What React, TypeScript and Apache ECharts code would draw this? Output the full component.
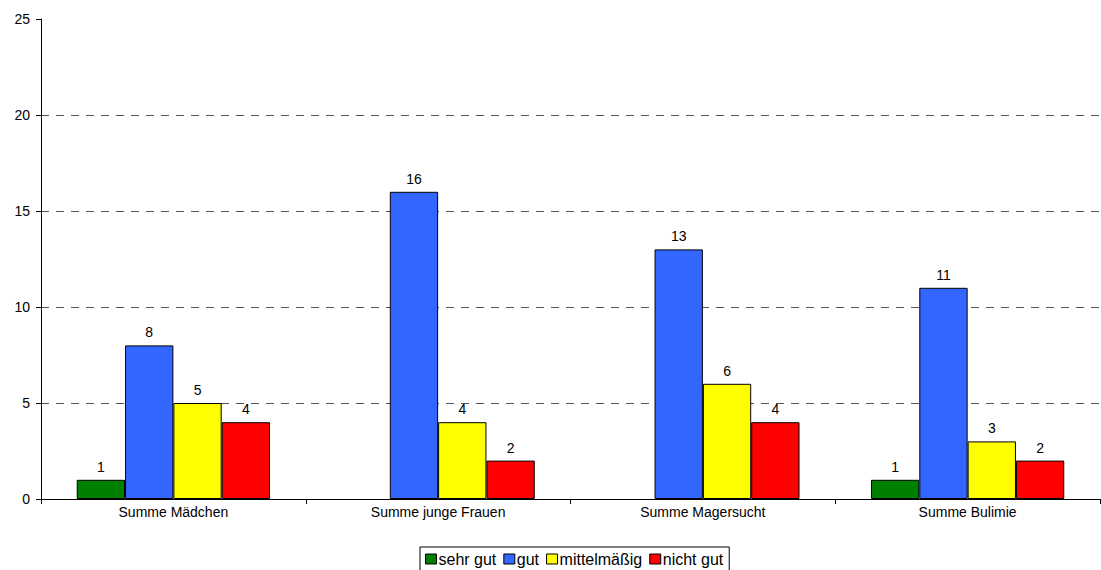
import React, { useEffect, useRef } from "react";
import * as echarts from "echarts";

const categories = ["Summe Mädchen", "Summe junge Frauen", "Summe Magersucht", "Summe Bulimie"];
const sehrGut = [1, null, null, 1];
const gut = [8, 16, 13, 11];
const mittel = [5, 4, 6, 3];
const nichtGut = [4, 2, 4, 2];
const seriesNames = ["sehr gut", "gut", "mittelmäßig", "nicht gut"];
const colors = ["#008000", "#3366FF", "#FFFF00", "#FF0000"];
const gridValues = [5, 10, 15, 20];

export default function App() {
  const ref = useRef<HTMLDivElement>(null);
  useEffect(() => {
    document.body.style.margin = "0";
    const chart = echarts.init(ref.current!, null, { renderer: "svg" });
    const font = "Arial, Liberation Sans, sans-serif";
    const datas = [sehrGut, gut, mittel, nichtGut];
    chart.setOption({
      animation: false,
      textStyle: { fontFamily: font },
      grid: { left: 41, right: 1, top: 19, bottom: 71 },
      legend: {
        top: 547,
        left: 420,
        icon: "rect",
        itemWidth: 11,
        itemHeight: 10,
        itemGap: 7,
        padding: [4, 6, 4, 5],
        borderColor: "#000",
        borderWidth: 1,
        textStyle: { fontSize: 16, color: "#000", fontFamily: font, padding: [0, 0, 0, -3] },
        data: seriesNames.map((n) => ({ name: n, itemStyle: { borderColor: "#000", borderWidth: 1 } })),
      },
      xAxis: {
        type: "category",
        data: categories,
        axisLine: { lineStyle: { color: "#000" } },
        axisTick: { show: true, length: 5, lineStyle: { color: "#000" } },
        axisLabel: { color: "#000", fontSize: 14, margin: 6, fontFamily: font },
      },
      yAxis: {
        type: "value",
        min: 0,
        max: 25,
        interval: 5,
        axisLine: { show: true, lineStyle: { color: "#000" } },
        axisTick: { show: true, length: 5, lineStyle: { color: "#000" } },
        axisLabel: { color: "#000", fontSize: 14, margin: 11, fontFamily: font },
        splitLine: { show: false },
      },
      series: seriesNames.map((name, i) => ({
        name,
        type: "bar",
        data: datas[i],
        barGap: "0%",
        barCategoryGap: "27%",
        itemStyle: { color: colors[i], borderColor: "#000", borderWidth: 1 },
        label: { show: true, position: "top", color: "#000", fontSize: 14, distance: 6, fontFamily: font },
        markLine:
          i === 0
            ? {
                silent: true,
                symbol: "none",
                label: { show: false },
                lineStyle: { color: "#555", type: [8, 7], width: 1 },
                data: gridValues.map((v) => ({ yAxis: v })),
                z: 0,
              }
            : undefined,
      })),
    });
    return () => chart.dispose();
  }, []);
  return <div ref={ref} style={{ width: 1101, height: 570 }} />;
}
